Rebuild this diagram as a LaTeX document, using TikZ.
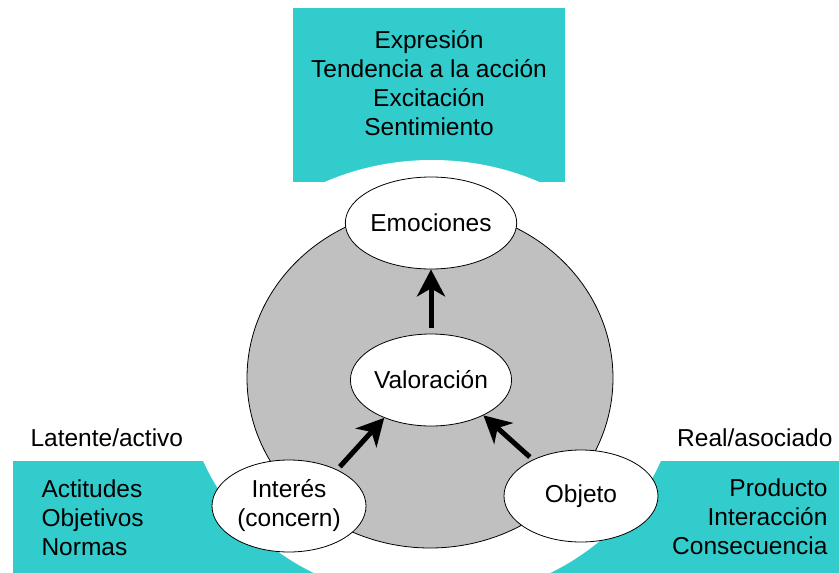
\documentclass[tikz,border=0pt]{standalone}
\usepackage{fontspec}
\setmainfont{Liberation Sans}
\usetikzlibrary{arrows.meta,shapes.geometric}
\definecolor{tealbox}{HTML}{33CCCC}
\definecolor{ringgray}{HTML}{C0C0C0}
\begin{document}
\begin{tikzpicture}[x=1pt,y=-1pt,
  bubble/.style={ellipse,draw=black,line width=0.8pt,fill=white,minimum width=154pt,minimum height=92pt,inner sep=0pt,font=\fontsize{24.5}{29}\selectfont,align=center},
  arr/.style={line width=5pt,-{Stealth[length=27pt,width=28pt,inset=8pt]}},
  lbl/.style={font=\fontsize{24.5}{29}\selectfont}]
\useasboundingbox (0,0) rectangle (839,573);
% Teal panels
\fill[tealbox] (293,8) rectangle (565,182);
\fill[tealbox] (13,461) rectangle (330,573);
\fill[tealbox] (530,461) rectangle (839,573);
% White and gray rings
\fill[white] (432,380) ellipse [x radius=246, y radius=220];
\filldraw[fill=ringgray,draw=black,line width=0.8pt] (430,378) ellipse [x radius=183, y radius=170];

% Bubbles
\node[bubble] (emo) at (431,223) {Emociones};
\node[bubble] (val) at (431,380) {Valoración};
\node[bubble] (int) at (289,506) {Interés\\(concern)};
\node[bubble] (obj) at (581,496) {Objeto};

\draw[arr, shorten <=6pt] (val.90) -- (emo.270);
\draw[arr, shorten <=4pt] (int.37) -- (val.219);
\draw[arr, shorten <=4pt] (obj.143) -- (val.326);

% Panel texts
\node[lbl, align=center] (top) at (429,83) {Expresión\\Tendencia a la acción\\Excitación\\Sentimiento};
\node[lbl, align=left, anchor=west] (left) at (38,518) {Actitudes\\Objetivos\\Normas};
\node[lbl, align=right, anchor=east] (right) at (831,517) {Producto\\Interacción\\Consecuencia};
\node[lbl, anchor=west] (lat) at (27,438) {Latente/activo};
\node[lbl, anchor=east] (real) at (836,438) {Real/asociado};
\end{tikzpicture}
\end{document}
